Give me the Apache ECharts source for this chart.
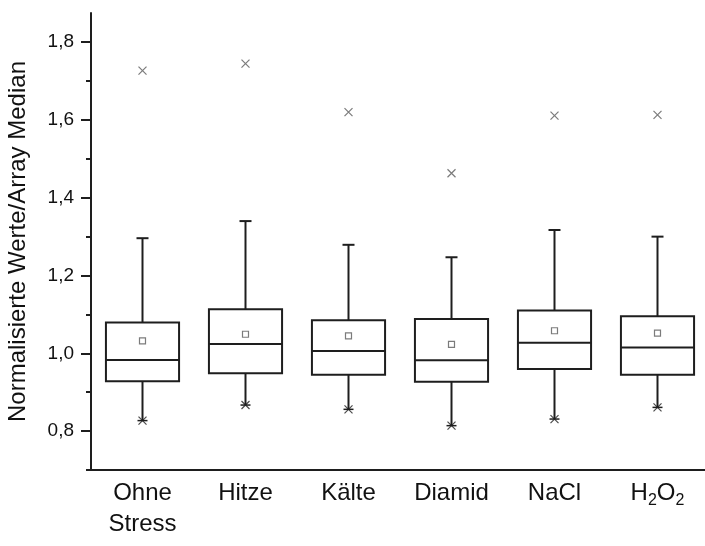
<!DOCTYPE html>
<html>
<head>
<meta charset="utf-8">
<script src="https://cdn.jsdelivr.net/npm/echarts@6/dist/echarts.min.js"></script>
<style>
  html, body { margin: 0; padding: 0; background: #fff; }
  #chart { width: 705px; height: 546px; }
</style>
</head>
<body>
<div id="chart"></div>
<script>
// Normalised expression values per stress condition
const categories = ['Ohne\nStress', 'Hitze', 'Kälte', 'Diamid', 'NaCl', 'H2O2'];
const lowerWhisker = [0.827, 0.867, 0.856, 0.814, 0.831, 0.861];
const q1 = [0.928, 0.949, 0.945, 0.927, 0.960, 0.945];
const median = [0.983, 1.024, 1.006, 0.982, 1.027, 1.015];
const q3 = [1.079, 1.113, 1.085, 1.088, 1.110, 1.095];
const upperWhisker = [1.296, 1.340, 1.279, 1.247, 1.317, 1.300];
const means = [1.032, 1.049, 1.045, 1.023, 1.058, 1.052];
const maxima = [1.727, 1.745, 1.620, 1.463, 1.611, 1.613];

const majorTicks = [0.8, 1.0, 1.2, 1.4, 1.6, 1.8];
const minorTicks = [0.7, 0.9, 1.1, 1.3, 1.5, 1.7];

const boxData = categories.map((c, i) => [i, lowerWhisker[i], q1[i], median[i], q3[i], upperWhisker[i]]);
const meanData = categories.map((c, i) => [i, means[i]]);
const maxData = categories.map((c, i) => [i, maxima[i]]);
const minData = categories.map((c, i) => [i, lowerWhisker[i]]);

const ink = '#1e1e1e';
const markerInk = '#5a5a5a';
const font = 'Arial, "Liberation Sans", sans-serif';
const crossPath = 'path://M0,0L10,10M10,0L0,10';

const chart = echarts.init(document.getElementById('chart'));

function renderBox(params, api) {
  const x = api.value(0);
  const pLow = api.coord([x, api.value(1)]);
  const pQ1 = api.coord([x, api.value(2)]);
  const pMed = api.coord([x, api.value(3)]);
  const pQ3 = api.coord([x, api.value(4)]);
  const pHigh = api.coord([x, api.value(5)]);
  const band = api.size([1, 0])[0];
  const hw = band * 0.355;
  const cap = 6;
  const cx = pMed[0];
  const st = { stroke: ink, lineWidth: 2, fill: 'none' };
  return {
    type: 'group',
    children: [
      { type: 'rect', shape: { x: cx - hw, y: pQ3[1], width: hw * 2, height: pQ1[1] - pQ3[1] }, style: st },
      { type: 'line', shape: { x1: cx - hw, y1: pMed[1], x2: cx + hw, y2: pMed[1] }, style: st },
      { type: 'line', shape: { x1: cx, y1: pQ3[1], x2: cx, y2: pHigh[1] }, style: st },
      { type: 'line', shape: { x1: cx - cap, y1: pHigh[1], x2: cx + cap, y2: pHigh[1] }, style: st },
      { type: 'line', shape: { x1: cx, y1: pQ1[1], x2: cx, y2: pLow[1] }, style: st },
      { type: 'line', shape: { x1: cx - cap + 1, y1: pLow[1], x2: cx + cap - 1, y2: pLow[1] }, style: { stroke: ink, lineWidth: 1.5 } }
    ]
  };
}

chart.setOption({
  animation: false,
  backgroundColor: '#fff',
  grid: { left: 91, top: 13, right: -4, bottom: 76, containLabel: false, outerBoundsMode: 'none' },
  xAxis: {
    type: 'category',
    data: categories,
    boundaryGap: true,
    axisLine: { lineStyle: { color: ink, width: 2 } },
    axisTick: { alignWithLabel: true, length: 9, lineStyle: { color: ink, width: 2 } },
    axisLabel: {
      interval: 0,
      hideOverlap: false,
      color: '#111',
      fontFamily: font,
      fontSize: 24,
      margin: 8,
      lineHeight: 31,
      formatter: v => v.replace(/(\d)/g, '{sub|$1}'),
      rich: {
        sub: { fontSize: 16, fontFamily: font, color: '#111', verticalAlign: 'bottom', padding: [12, 0, 0, 0] }
      }
    },
    splitLine: { show: false }
  },
  yAxis: [
    {
      type: 'value',
      min: 0.7,
      max: 1.875,
      name: 'Normalisierte Werte/Array Median',
      nameLocation: 'middle',
      nameRotate: 90,
      nameGap: 61,
      nameTextStyle: { color: '#111', fontFamily: font, fontSize: 24 },
      axisLine: { show: true, lineStyle: { color: ink, width: 2 } },
      axisTick: { show: true, customValues: majorTicks, length: 10, lineStyle: { color: ink, width: 2 } },
      axisLabel: {
        customValues: majorTicks,
        color: '#111',
        fontFamily: font,
        fontSize: 19,
        margin: 17,
        formatter: v => v.toFixed(1).replace('.', ',')
      },
      splitLine: { show: false }
    },
    {
      type: 'value',
      position: 'left',
      min: 0.7,
      max: 1.875,
      axisLine: { show: false },
      axisTick: { show: true, customValues: minorTicks, length: 5, lineStyle: { color: ink, width: 2 } },
      axisLabel: { show: false },
      splitLine: { show: false }
    }
  ],
  series: [
    {
      type: 'custom',
      renderItem: renderBox,
      data: boxData,
      encode: { x: 0, y: [1, 2, 3, 4, 5] },
      z: 2
    },
    {
      type: 'scatter',
      data: meanData,
      symbol: 'rect',
      symbolSize: 6,
      itemStyle: { color: '#fff', borderColor: markerInk, borderWidth: 1.2 },
      z: 3
    },
    {
      type: 'scatter',
      data: maxData,
      symbol: crossPath,
      symbolSize: 8,
      itemStyle: { color: 'none', borderColor: markerInk, borderWidth: 1.2 },
      z: 3
    },
    {
      type: 'scatter',
      data: minData,
      symbol: crossPath,
      symbolSize: 8,
      itemStyle: { color: 'none', borderColor: ink, borderWidth: 1.2 },
      z: 3
    }
  ]
});
</script>
</body>
</html>
